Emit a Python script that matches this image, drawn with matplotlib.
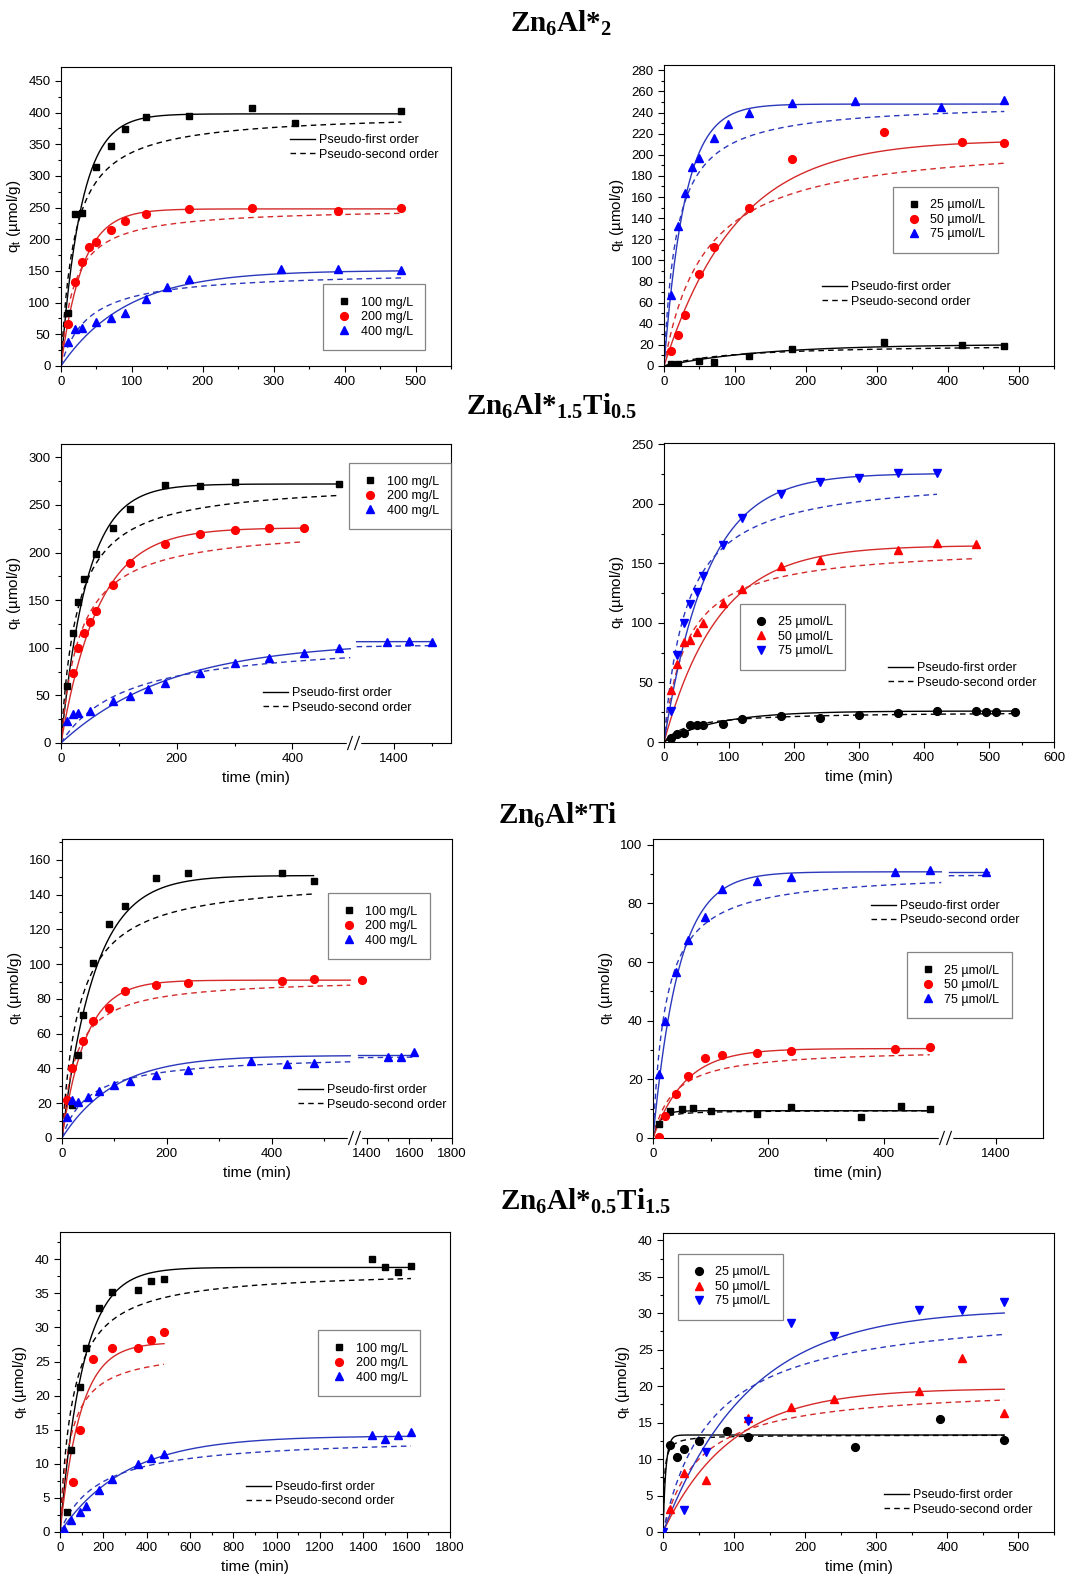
import numpy as np
import matplotlib
matplotlib.use("Agg")
import matplotlib.pyplot as plt
from matplotlib.lines import Line2D
from matplotlib.ticker import MultipleLocator

plt.rcParams['font.family'] = ['Liberation Sans', 'DejaVu Sans']
plt.rcParams['mathtext.fontset'] = 'custom'
plt.rcParams['mathtext.rm'] = 'Liberation Serif:bold'
plt.rcParams['mathtext.bf'] = 'Liberation Serif:bold'
plt.rcParams['mathtext.it'] = 'Liberation Serif:italic:bold'
plt.rcParams['mathtext.sf'] = 'Liberation Sans'

# ---------------- data ----------------
mg_labels = ["100 mg/L", "200 mg/L", "400 mg/L"]
um_labels = ["25 \u00b5mol/L", "50 \u00b5mol/L", "75 \u00b5mol/L"]

# Zn6Al*2 - mg/L
p1_t1 = [10, 20, 30, 50, 70, 90, 120, 180, 270, 330, 480]
p1_q1 = [84, 240, 241, 314, 347, 374, 393, 395, 407, 383, 403]
p1_t2 = [10, 20, 30, 40, 50, 70, 90, 120, 180, 270, 390, 480]
p1_q2 = [67, 133, 164, 188, 196, 215, 229, 240, 248, 250, 245, 250]
p1_t3 = [10, 20, 30, 50, 70, 90, 120, 150, 180, 310, 390, 480]
p1_q3 = [38, 58, 60, 69, 75, 84, 106, 125, 137, 153, 153, 152]
p1_pfo = [[398, 0.035], [248, 0.033], [151, 0.0108]]      # qe, k1
p1_pso = [[400, 1.34e-4], [250, 2.23e-4], [150, 1.76e-4]]  # qe, k2
p1_spans = [[(0, 480)], [(0, 480)], [(0, 480)]]

# Zn6Al*2 - umol/L
p2_t1 = [10, 20, 50, 70, 120, 180, 310, 420, 480]
p2_q1 = [1.6, 2.2, 4.7, 3.8, 9.5, 16.4, 22.4, 20.2, 19.3]
p2_t2 = [10, 20, 30, 50, 70, 120, 180, 310, 420, 480]
p2_q2 = [14, 29, 48, 87, 113, 150, 196, 222, 212, 211]
p2_t3 = [10, 20, 30, 40, 50, 70, 90, 120, 180, 270, 390, 480]
p2_q3 = [67, 133, 164, 188, 197, 216, 229, 240, 249, 251, 245, 252]
p2_pfo = [[20.5, 0.0071], [214, 0.0098], [248, 0.034]]
p2_pso = [[21, 4.95e-4], [215, 8.1e-5], [250, 2.23e-4]]
p2_spans = [[(0, 480)], [(0, 480)], [(0, 480)]]

# Zn6Al*1.5Ti0.5 - mg/L
p3_t1 = [10, 20, 30, 40, 60, 90, 120, 180, 240, 300, 480]
p3_q1 = [60, 116, 148, 172, 199, 226, 246, 271, 270, 274, 272]
p3_t2 = [20, 30, 40, 50, 60, 90, 120, 180, 240, 300, 360, 420]
p3_q2 = [74, 100, 116, 127, 139, 166, 189, 209, 219, 224, 226, 226]
p3_t3 = [10, 20, 30, 50, 90, 120, 150, 180, 240, 300, 360, 420, 480, 1380, 1440, 1500]
p3_q3 = [23, 30, 31, 34, 44, 49, 57, 63, 73, 84, 89, 95, 100, 106, 107, 106]
p3_pfo = [[272, 0.022], [226, 0.0155], [106.5, 0.0053]]
p3_pso = [[275, 1.31e-4], [228, 1.32e-4], [110, 8.0e-5]]
p3_spans = [[(0, 480)], [(0, 420)], [(0, 500), (1300, 1500)]]

# Zn6Al*1.5Ti0.5 - umol/L
p4_t1 = [10, 20, 30, 40, 50, 60, 90, 120, 180, 240, 300, 360, 420, 480, 495, 510, 540]
p4_q1 = [3.4, 7, 7.6, 14.6, 14.6, 14, 15.4, 19, 22, 20.2, 23, 24.6, 25.8, 25.8, 25.5, 25.5, 25.5]
p4_t2 = [10, 20, 30, 40, 50, 60, 90, 120, 180, 240, 360, 420, 480]
p4_q2 = [44, 65.5, 84, 86, 92.4, 100, 117, 128.5, 147.5, 153, 161, 167, 166.6]
p4_t3 = [10, 20, 30, 40, 50, 60, 90, 120, 180, 240, 300, 360, 420]
p4_q3 = [26, 73, 100, 116, 126, 139, 165, 188, 208, 218, 222, 226, 226]
p4_pfo = [[26, 0.0122], [165, 0.012], [225.5, 0.015]]
p4_pso = [[25.5, 1.02e-3], [165, 1.76e-4], [225, 1.29e-4]]
p4_spans = [[(0, 540)], [(0, 480)], [(0, 420)]]

# Zn6Al*Ti - mg/L
p5_t1 = [20, 30, 40, 60, 90, 120, 180, 240, 420, 480]
p5_q1 = [19, 48, 70.6, 100.4, 123, 133.5, 149.6, 152.3, 152.7, 148]
p5_t2 = [10, 20, 40, 60, 90, 120, 180, 240, 420, 480, 1380]
p5_q2 = [22, 40, 56, 67.5, 75, 84.6, 87.9, 89, 90.6, 91.2, 90.8]
p5_t3 = [10, 20, 30, 50, 70, 100, 130, 180, 240, 360, 430, 480, 1500, 1560, 1620]
p5_q3 = [12, 22, 20.6, 23.5, 27.3, 30.4, 32.7, 36.2, 39.4, 44.2, 42.7, 43, 46.5, 46.5, 49.4]
p5_pfo = [[151, 0.016], [90.8, 0.022], [47.5, 0.01]]
p5_pso = [[150, 2.03e-4], [92, 4.24e-4], [48, 4.0e-4]]
p5_spans = [[(0, 480)], [(0, 550)], [(0, 550), (1360, 1620)]]

# Zn6Al*Ti - umol/L
p6_t1 = [10, 30, 50, 70, 100, 180, 240, 360, 430, 480]
p6_q1 = [4.9, 9.3, 9.9, 10.3, 9.1, 8.3, 10.6, 7.3, 10.8, 9.8]
p6_t2 = [10, 20, 40, 60, 90, 120, 180, 240, 420, 480]
p6_q2 = [0.5, 7.6, 15, 21, 27.3, 28.3, 29, 29.7, 30.5, 30.9]
p6_t3 = [10, 20, 40, 60, 90, 120, 180, 240, 420, 480, 1380]
p6_q3 = [21.8, 40, 56.5, 67.4, 75.3, 85, 87.8, 89.2, 90.6, 91.4, 90.8]
p6_pfo = [[9.3, 0.08], [30.5, 0.018], [90.8, 0.0225]]
p6_pso = [[9.4, 0.016], [30.5, 9.2e-4], [91, 4.97e-4]]
p6_spans = [[(0, 480)], [(0, 480)], [(0, 500), (1300, 1385)]]

# Zn6Al*0.5Ti1.5 - mg/L
p7_t1 = [30, 50, 90, 120, 180, 240, 360, 420, 480, 1440, 1500, 1560, 1620]
p7_q1 = [3, 12, 21.3, 27, 32.8, 35.2, 35.5, 36.8, 37.1, 40, 38.8, 38.2, 39]
p7_t2 = [60, 90, 150, 240, 360, 420, 480]
p7_q2 = [7.4, 15, 25.4, 27, 27, 28.1, 29.3]
p7_t3 = [20, 50, 90, 120, 180, 240, 360, 420, 480, 1440, 1500, 1560, 1620]
p7_q3 = [0.5, 1.7, 2.9, 3.8, 6.1, 7.8, 10, 10.8, 11.4, 14.3, 13.7, 14.2, 14.6]
p7_pfo = [[38.8, 0.0093], [27.8, 0.0105], [14.1, 0.0033]]
p7_pso = [[38.5, 4.5e-4], [27, 7.9e-4], [14, 4.0e-4]]
p7_spans = [[(0, 1620)], [(0, 480)], [(0, 1620)]]

# Zn6Al*0.5Ti1.5 - umol/L
p8_t1 = [10, 20, 30, 50, 90, 120, 270, 390, 480]
p8_q1 = [11.9, 10.3, 11.4, 12.5, 13.9, 13, 11.7, 15.5, 12.6]
p8_t2 = [10, 30, 60, 120, 180, 240, 360, 420, 480]
p8_q2 = [3.1, 8.1, 7.1, 15.6, 17.2, 18.2, 19.4, 23.8, 16.3]
p8_t3 = [0, 30, 60, 120, 180, 240, 360, 420, 480]
p8_q3 = [0, 3, 11, 15.2, 28.6, 26.9, 30.5, 30.4, 31.6]
p8_pfo = [[13.3, 0.25], [19.7, 0.0105], [30.6, 0.0083]]
p8_pso = [[13.3, 0.045], [20, 9.9e-4], [31, 4.66e-4]]
p8_spans = [[(0, 480)], [(0, 480)], [(0, 480)]]

titles = [r"Zn$_{6}$Al*$_{2}$", r"Zn$_{6}$Al*$_{1.5}$Ti$_{0.5}$",
          r"Zn$_{6}$Al*Ti", r"Zn$_{6}$Al*$_{0.5}$Ti$_{1.5}$"]

# ---------------- styling ----------------
mark_cols = ['black', '#ff0000', '#0000ff']
line_cols = ['black', '#d42a2a', '#2a38bb']
W, H = 1089, 1582
fig = plt.figure(figsize=(W / 100, H / 100), dpi=100)


def axes_px(l, r, t, b):
    return fig.add_axes([l / W, 1 - b / H, (r - l) / W, (b - t) / H])


def broken(tb1, tb2, u2, k):
    def fwd(t):
        t = np.asarray(t, dtype=float)
        mid = tb1 + (t - tb1) * (u2 - tb1) / (tb2 - tb1)
        return np.where(t <= tb1, t, np.where(t >= tb2, u2 + (t - tb2) * k, mid))

    def inv(u):
        u = np.asarray(u, dtype=float)
        mid = tb1 + (u - tb1) * (tb2 - tb1) / (u2 - tb1)
        return np.where(u <= tb1, u, np.where(u >= u2, tb2 + (u - u2) / k, mid))
    return fwd, inv


def break_mark(ax, f=0.75):
    tr = ax.transAxes
    ax.plot([f - 0.014, f + 0.014], [0, 0], color='white', lw=2.5, transform=tr,
            clip_on=False, zorder=5)
    for dx in (-0.009, 0.009):
        ax.plot([f + dx - 0.006, f + dx + 0.006], [-0.022, 0.022], color='black', lw=0.8,
                transform=tr, clip_on=False, zorder=6)


def draw_panel(ax, ts, qs, labels, markers, pfo, pso, spans, mleg, lleg):
    for i in range(3):
        for (a, b) in spans[i]:
            t = np.linspace(a, b, 400)
            qe, k1 = pfo[i]
            ax.plot(t, qe * (1 - np.exp(-k1 * t)), color=line_cols[i], lw=1.0, zorder=2)
            qe2, k2 = pso[i]
            ax.plot(t, qe2 ** 2 * k2 * t / (1 + qe2 * k2 * t), color=line_cols[i], lw=1.0,
                    ls=(0, (4, 3)), zorder=2)
    hs = []
    for i in range(3):
        ms = 4.8 if markers[i] == 's' else 5.6
        h, = ax.plot(ts[i], qs[i], ls='none', marker=markers[i], color=mark_cols[i],
                     ms=ms, label=labels[i], zorder=3)
        hs.append(h)
    leg1 = ax.legend(handles=hs, loc='upper left', bbox_to_anchor=mleg, borderaxespad=0,
                     fontsize=9, frameon=True, fancybox=False, edgecolor='#666666',
                     borderpad=1.0, handlelength=1.4, handletextpad=0.6, labelspacing=0.2)
    leg1.get_frame().set_linewidth(0.9)
    ax.add_artist(leg1)
    lh = [Line2D([], [], color='black', lw=1.0),
          Line2D([], [], color='black', lw=1.0, ls=(0, (4, 3)))]
    ax.legend(lh, ["Pseudo-first order", "Pseudo-second order"], loc='upper left',
              bbox_to_anchor=lleg, borderaxespad=0, borderpad=0, frameon=False, fontsize=9,
              handlelength=2.0, handletextpad=0.3, labelspacing=0.2)


def style(ax, ylim, ymaj, ymin, xlabel=True):
    ax.set_ylim(*ylim)
    ax.yaxis.set_major_locator(MultipleLocator(ymaj))
    ax.yaxis.set_minor_locator(MultipleLocator(ymin))
    ax.tick_params(which='both', direction='out', top=False, right=False, labelsize=9.5,
                   width=0.8)
    ax.tick_params(which='major', length=4)
    ax.tick_params(which='minor', length=2)
    for s in ax.spines.values():
        s.set_linewidth(0.8)
    ax.set_ylabel("q$_\\mathsf{t}$ (\u00b5mol/g)", fontsize=11)
    if xlabel:
        ax.set_xlabel("time (min)", fontsize=11)


def linear_x(ax, xlim, maj, mnr):
    ax.set_xlim(*xlim)
    ax.xaxis.set_major_locator(MultipleLocator(maj))
    ax.xaxis.set_minor_locator(MultipleLocator(mnr))


def broken_x(ax, fns, xlim, majors, minors):
    ax.set_xscale('function', functions=fns)
    ax.set_xlim(*xlim)
    ax.set_xticks(majors)
    ax.set_xticks(minors, minor=True)
    ax.set_xticklabels([str(m) for m in majors])
    break_mark(ax)


# panel 1
ax = axes_px(61, 451, 67, 366)
draw_panel(ax, [p1_t1, p1_t2, p1_t3], [p1_q1, p1_q2, p1_q3], mg_labels, ['s', 'o', '^'],
           p1_pfo, p1_pso, p1_spans, (0.672, 0.274), (0.587, 0.775))
linear_x(ax, (0, 550), 100, 50)
style(ax, (0, 472), 50, 25, xlabel=False)

# panel 2
ax = axes_px(664, 1054, 65, 366)
draw_panel(ax, [p2_t1, p2_t2, p2_t3], [p2_q1, p2_q2, p2_q3], um_labels, ['s', 'o', '^'],
           p2_pfo, p2_pso, p2_spans, (0.587, 0.595), (0.405, 0.282))
linear_x(ax, (0, 550), 100, 50)
style(ax, (0, 285), 20, 10, xlabel=False)

# panel 3
ax = axes_px(61, 451, 444, 743)
draw_panel(ax, [p3_t1, p3_t2, p3_t3], [p3_q1, p3_q2, p3_q3], mg_labels, ['s', 'o', '^'],
           p3_pfo, p3_pso, p3_spans, (0.739, 0.936), (0.518, 0.187))
broken_x(ax, broken(505, 1300, 511, 0.65), (0, 1551), [0, 200, 400, 1400], [100, 300, 1500])
style(ax, (0, 314), 50, 25)

# panel 4
ax = axes_px(664, 1054, 443, 742)
draw_panel(ax, [p4_t1, p4_t2, p4_t3], [p4_q1, p4_q2, p4_q3], um_labels, ['o', '^', 'v'],
           p4_pfo, p4_pso, p4_spans, (0.195, 0.462), (0.574, 0.267))
linear_x(ax, (0, 600), 100, 50)
style(ax, (0, 251), 50, 25)

# panel 5
ax = axes_px(62, 452, 839, 1138)
draw_panel(ax, [p5_t1, p5_t2, p5_t3], [p5_q1, p5_q2, p5_q3], mg_labels, ['s', 'o', '^'],
           p5_pfo, p5_pso, p5_spans, (0.682, 0.819), (0.605, 0.18))
broken_x(ax, broken(560, 1360, 565.1, 0.407), (0, 1800), [0, 200, 400, 1400, 1600, 1800],
         [100, 300, 500, 1500, 1700])
style(ax, (0, 172), 20, 10)

# panel 6
ax = axes_px(653, 1043, 839, 1138)
draw_panel(ax, [p6_t1, p6_t2, p6_t3], [p6_q1, p6_q2, p6_q3], um_labels, ['s', 'o', '^'],
           p6_pfo, p6_pso, p6_spans, (0.651, 0.622), (0.559, 0.796))
broken_x(ax, broken(505, 1300, 513, 0.817), (0, 1500), [0, 200, 400, 1400], [100, 300])
style(ax, (0, 102), 20, 10)

# panel 7
ax = axes_px(60, 450, 1232, 1532)
draw_panel(ax, [p7_t1, p7_t2, p7_t3], [p7_q1, p7_q2, p7_q3], mg_labels, ['s', 'o', '^'],
           p7_pfo, p7_pso, p7_spans, (0.662, 0.673), (0.477, 0.17))
linear_x(ax, (0, 1800), 200, 100)
style(ax, (0, 44), 5, 2.5)

# panel 8
ax = axes_px(663, 1054, 1233, 1532)
draw_panel(ax, [p8_t1, p8_t2, p8_t3], [p8_q1, p8_q2, p8_q3], um_labels, ['o', '^', 'v'],
           p8_pfo, p8_pso, p8_spans, (0.038, 0.93), (0.565, 0.143))
linear_x(ax, (0, 550), 100, 50)
style(ax, (0, 41), 5, 2.5)

# section titles
title_pos = [(561, 23), (552, 406), (558, 815), (586, 1201)]
for txt, (x, y) in zip(titles, title_pos):
    fig.text(x / W, 1 - y / H, txt, ha='center', va='center', fontsize=21,
             family='Liberation Serif', weight='bold')

fig.savefig("out.png", dpi=100)
